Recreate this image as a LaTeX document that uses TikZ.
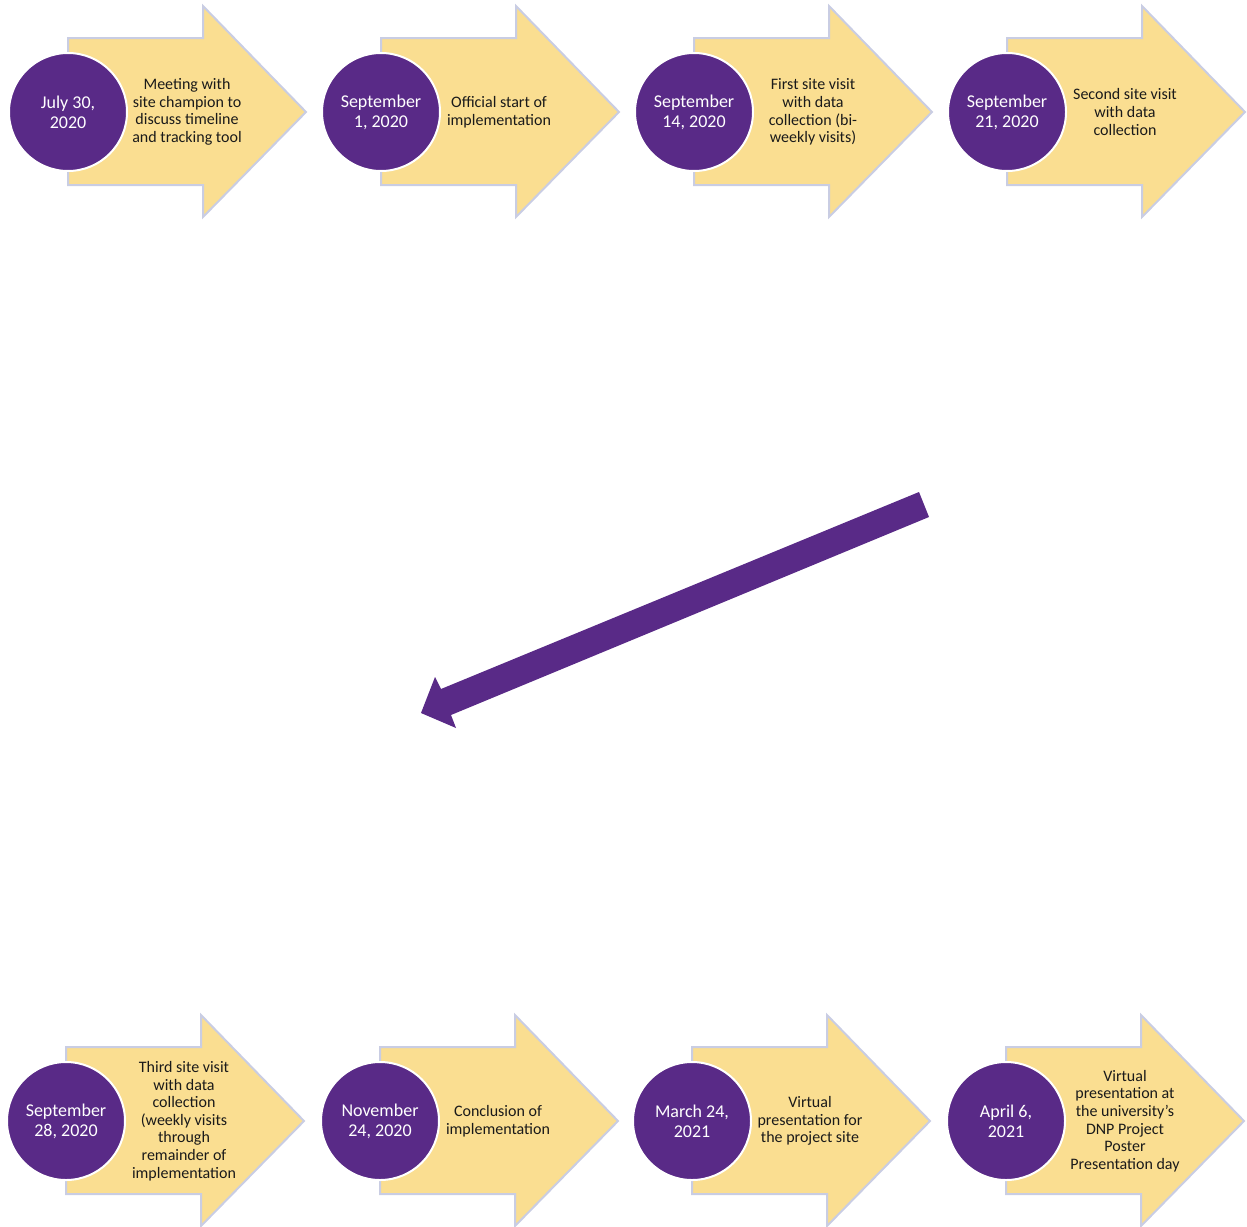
\documentclass[tikz,border=0pt]{standalone}
\usepackage{fontspec}
\setmainfont{Carlito}
\definecolor{tlpurple}{HTML}{592A87}
\definecolor{tlyellow}{HTML}{FADE91}
\definecolor{tledge}{HTML}{C9CDE3}
\definecolor{tltext}{HTML}{1A1A1A}
\tikzset{
  tlbody/.style={fill=tlyellow, draw=tledge, line width=1pt, line join=miter},
  tldate/.style={circle, fill=tlpurple, draw=white, line width=1pt, minimum size=59pt, inner sep=0pt,
    text=white, align=center, font=\fontsize{9}{10}\selectfont},
  tldesc/.style={text=tltext, align=center, inner sep=0pt, font=\fontsize{8}{8.8}\selectfont},
  tlbig/.style={fill=tlpurple, draw=none}
}
\newcommand{\tlstep}[6]{%
  % #1 cx, #2 cy, #3 name, #4 date, #5 description, #6 text offset
  \path[tlbody] (#1,#2-74) -- (#1+135,#2-74) -- (#1+135,#2-106) -- (#1+238,#2)
     -- (#1+135,#2+105) -- (#1+135,#2+73) -- (#1,#2+73) -- cycle;
  \node[tldate] (c#3) at (#1,#2) {#4};
  \node[tldesc] (d#3) at (#1+#6,#2) {#5};
}
\begin{document}
\begin{tikzpicture}[x=0.5pt,y=-0.5pt]
\useasboundingbox (0,0) rectangle (1247,1226);
\tlstep{68}{112}{1}{July 30,\\2020}{Meeting with\\site champion to\\discuss timeline\\and tracking tool}{119}
\tlstep{381}{112}{2}{September\\1, 2020}{Official start of\\implementation}{118}
\tlstep{694}{112}{3}{September\\14, 2020}{First site visit\\with data\\collection (bi-\\weekly visits)}{119}
\tlstep{1007}{112}{4}{September\\21, 2020}{Second site visit\\with data\\collection}{118}
\tlstep{66}{1121}{5}{September\\28, 2020}{Third site visit\\with data\\collection\\(weekly visits\\through\\remainder of\\implementation}{118}
\tlstep{380}{1121}{6}{November\\24, 2020}{Conclusion of\\implementation}{118}
\tlstep{692}{1121}{7}{March 24,\\2021}{Virtual\\presentation for\\the project site}{118}
\tlstep{1006}{1121}{8}{April 6,\\2021}{Virtual\\presentation at\\the university's\\DNP Project\\Poster\\Presentation day}{119}
\path[tlbig] (919,492) -- (441,689) -- (435,677) -- (421,713) -- (456,728) -- (451,715) -- (929,517) -- cycle;
\end{tikzpicture}
\end{document}
